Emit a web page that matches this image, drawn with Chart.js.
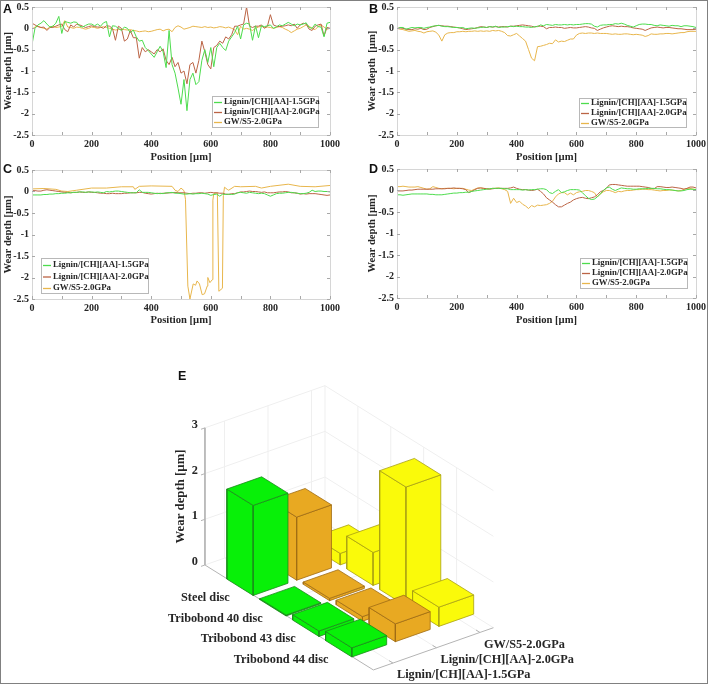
<!DOCTYPE html>
<html>
<head>
<meta charset="utf-8">
<title>Wear depth</title>
<script src="https://cdn.jsdelivr.net/npm/chart.js@4"></script>
<style>
    html, body { margin: 0; padding: 0; background: #fff; }
    #page { position: relative; width: 708px; height: 684px; overflow: hidden; }
    #frame { position: absolute; left: 0; top: 0; width: 706px; height: 682px; border: 1px solid #808080; }
    canvas { position: absolute; }
    .letter { position: absolute; font: bold 12.5px "Liberation Sans"; color: #111; }
</style>
</head>
<body>
<div id="page">
    <canvas id="panelA" width="354" height="165" style="left:0;top:0"></canvas>
    <canvas id="panelB" width="354" height="165" style="left:354px;top:0"></canvas>
    <canvas id="panelC" width="354" height="170" style="left:0;top:160px"></canvas>
    <canvas id="panelD" width="354" height="170" style="left:354px;top:160px"></canvas>
    <canvas id="panelE" width="450" height="317" style="left:150px;top:365px"></canvas>
    <div class="letter" style="left:3px;top:2px">A</div>
    <div class="letter" style="left:369px;top:2px">B</div>
    <div class="letter" style="left:3px;top:162px">C</div>
    <div class="letter" style="left:369px;top:162px">D</div>
    <div class="letter" style="left:178px;top:369px">E</div>
    <div id="frame"></div>
</div>
<script>
const seriesNames = ['Lignin/[CH][AA]-1.5GPa', 'Lignin/[CH][AA]-2.0GPa', 'GW/S5-2.0GPa'];
const discNames = ['Steel disc', 'Tribobond 40 disc', 'Tribobond 43 disc', 'Tribobond 44 disc'];
const depthTicks = [0, 1, 2, 3];

// every curve is read at these positions, except the gold one of panel C
const positions = [
    0, 10, 20, 30, 40, 50, 60, 70, 80, 90,
    100, 110, 120, 130, 140, 150, 160, 170, 180, 190,
    200, 210, 220, 230, 240, 250, 260, 270, 280, 290,
    300, 310, 320, 330, 340, 350, 360, 370, 380, 390,
    400, 410, 420, 430, 440, 450, 460, 470, 480, 490,
    500, 510, 520, 530, 540, 550, 560, 570, 580, 590,
    600, 610, 620, 630, 640, 650, 660, 670, 680, 690,
    700, 710, 720, 730, 740, 750, 760, 770, 780, 790,
    800, 810, 820, 830, 840, 850, 860, 870, 880, 890,
    900, 910, 920, 930, 940, 950, 960, 970, 980, 990,
    1000
];

const greenA = [
    -.38, 0, .08, .12, .18, .10, .03, .05, .12, .28,
    -.12, .16, .14, .12, .15, .14, .05, .03, .07, .10,
    .10, .06, .10, .05, .13, .16, -.20, .06, .05, 0,
    -.05, .03, 0, -.10, -.04, -.20, -.30, -.28, -.45, -.52,
    -.60, -.68, -.55, -.42, -.55, -.92, -.05, -.85, -1.05, -1.40,
    -1.78, -1.20, -1.93, -1.20, -1.05, -1.32, -1.25, -.75, -.50, -.80,
    -.45, -.90, -.45, -.35, -.45, -.52, -.30, -.20, -.10, .05,
    -.25, .08, .12, .10, -.28, .06, -.22, .06, .04, .06,
    .08, 0, .03, .08, .06, .10, .14, .10, .06, .10,
    .08, .10, .13, .02, 0, .10, .04, .03, -.20, .12,
    .14
];
const redA = [
    .12, .08, .04, .02, .03, -.05, .02, .02, .05, .08,
    .10, -.03, -.08, .08, .03, .10, .08, .05, .02, .04,
    .06, .04, .03, .03, 0, .06, .05, 0, -.28, .05,
    0, -.30, -.25, -.05, -.22, -.22, -.70, -.45, -.55, -.50,
    -.55, -.60, -.50, -.55, -.48, -.75, -.85, -.68, -.90, -.80,
    -1.05, -1.00, -1.30, -.85, -.80, -1.05, -.75, -.30, -.55, -.85,
    -.95, -.45, -.40, -.30, -.35, -.20, -.25, -.15, .05, .05,
    .08, .10, .50, .05, .02, .05, .05, .08, 0, .05,
    .32, .08, .05, .04, .05, .06, .08, .06, .10, 0,
    .08, .12, .10, -.02, -.05, .05, .08, .10, -.18, .02,
    0
];
const goldA = [
    -.02, .03, .05, .02, 0, -.02, .03, .05, .02, .03,
    .05, .18, .03, .02, 0, .03, .02, 0, -.02, 0,
    .03, .02, 0, .02, .04, .02, 0, -.02, -.04, -.03,
    -.02, -.03, -.04, -.03, -.05, -.06, -.08, -.07, -.06, -.08,
    -.07, -.05, -.03, -.02, -.06, -.03, -.02, -.08, .02, .06,
    .03, -.02, 0, .02, .05, .04, .03, .02, .04, .02,
    .03, .01, .02, .04, .03, .01, .03, 0, -.03, -.15,
    .05, -.02, 0, -.02, -.05, 0, .03, .05, .02, .03,
    .02, 0, .02, .04, .02, -.02, -.05, -.10, -.06, -.02,
    0, .04, .08, .05, 0, -.03, .04, .08, .03, -.02,
    0
];

const greenB = [
    -.02, .02, .02, -.02, 0, .02, .01, .02, .02, 0,
    .02, .03, .05, .06, .07, .05, .04, .04, .03, .02,
    .02, .01, .02, -.01, 0, .01, 0, .01, .02, .03,
    .02, .04, .03, .05, .02, .03, .03, .04, .05, .04,
    .05, .04, .04, .03, .03, .02, .04, .04, .08, .06,
    .09, .08, .07, .09, .08, .08, .09, .08, .09, .08,
    .09, .09, .10, .11, .11, .10, .05, .03, .07, .08,
    .08, .09, .09, .11, .10, .12, .10, .07, .05, .03,
    .06, .09, .10, .10, .09, .09, .07, .06, .08, .07,
    .06, .05, .07, .06, .06, .04, .06, .06, .05, .04,
    .02
];
const redB = [
    0, .01, 0, -.02, -.03, -.03, -.01, -.02, 0, -.03,
    -.02, .02, .04, .06, .07, .06, .05, .05, .04, .03,
    .02, .01, -.01, -.03, -.02, -.01, 0, .02, .04, .03,
    .02, .04, .03, .04, .03, .04, .04, .03, .05, .05,
    .06, .07, .08, .07, .06, .05, .03, .05, .05, .04,
    -.01, .02, .02, .03, .02, .02, 0, .01, .02, .01,
    .01, .02, .03, .04, .03, .01, 0, -.05, -.02, .01,
    .03, .05, .06, .05, .04, .05, .04, .04, .03, .01,
    0, -.01, -.02, -.05, -.02, .01, .02, .03, .02, .01,
    .02, .02, .01, 0, -.01, -.01, -.02, -.03, -.03, -.03,
    -.02
];
const goldB = [
    0, -.02, -.03, -.05, -.07, -.06, -.05, -.07, -.08, -.11,
    -.08, -.07, -.06, -.09, -.16, -.30, -.15, -.11, -.10, -.10,
    -.08, -.08, -.07, -.08, -.07, -.07, -.06, -.07, -.06, -.07,
    -.06, -.07, -.05, -.06, -.05, -.07, -.10, -.17, -.18, -.15,
    -.12, -.18, -.24, -.30, -.50, -.70, -.76, -.43, -.42, -.40,
    -.38, -.35, -.36, -.27, -.32, -.30, -.31, -.28, -.25, -.25,
    -.16, -.12, -.11, -.12, -.11, -.11, -.12, -.11, -.12, -.12,
    -.12, -.13, -.14, -.13, -.14, -.14, -.13, -.13, -.14, -.15,
    -.14, -.15, -.16, -.19, -.17, -.13, -.14, -.14, -.13, -.13,
    -.12, -.12, -.13, -.12, -.11, -.10, -.10, -.08, -.07, -.07,
    -.07
];

const greenC = [
    -.08, -.08, -.08, -.08, -.07, -.07, -.06, -.06, -.05, -.05,
    -.04, -.04, -.03, -.03, -.02, -.02, -.01, -.01, -.02, -.01,
    -.01, -.02, -.01, -.02, -.03, 0, -.01, 0, .01, .01,
    0, -.01, -.02, -.03, -.03, -.03, .04, -.02, -.02, -.02,
    -.03, -.04, -.05, -.04, -.05, -.03, -.03, -.02, -.04, -.04,
    -.05, -.06, -.06, -.05, -.06, -.05, -.05, -.04, -.05, -.06,
    -.09, -.07, -.06, -.11, -.06, -.07, -.06, -.07, -.06, -.03,
    -.02, -.03, -.04, -.02, -.03, -.04, -.05, -.04, -.05, -.08,
    -.11, -.08, -.05, -.04, -.04, -.03, -.02, -.02, -.03, -.04,
    -.05, -.05, -.04, -.02, .03, 0, .01, .01, 0, 0,
    -.01
];
const redC = [
    .02, .02, .01, .01, .03, .04, .03, .02, .01, 0,
    -.01, -.02, -.02, -.03, -.02, -.02, -.01, -.02, -.02, -.01,
    -.02, -.02, -.03, -.04, -.04, -.05, -.05, -.04, -.05, -.05,
    -.05, -.04, -.04, -.03, -.03, -.03, -.02, -.02, -.04, -.05,
    -.06, -.05, -.04, -.05, -.04, -.04, -.03, -.03, -.02, -.03,
    -.03, -.03, -.04, -.05, -.04, -.04, -.03, -.03, -.04, -.03,
    -.02, -.03, -.03, -.04, -.04, -.06, -.07, -.05, -.05, -.03,
    -.01, -.01, 0, .01, 0, 0, -.01, -.02, -.01, -.03,
    -.03, -.03, -.02, -.01, -.01, 0, -.01, -.03, -.03, -.04,
    -.06, -.05, -.06, -.05, -.05, -.05, -.06, -.07, -.08, -.09,
    -.08
];
// the gold curve of C has almost vertical walls, so it keeps its own positions
const goldCPositions = [
    0, 40, 80, 100, 120, 150, 200, 250, 300, 340, 345, 360, 400, 470, 480, 490,
    500, 510, 515, 523, 530, 541, 549, 554, 562, 571, 579, 588, 590, 597, 605, 607,
    610, 622, 627, 639, 642, 646, 655, 660, 680, 700, 750, 770, 800, 860, 900, 950, 1000
];
const goldC = [
    .06, .07, .05, .01, 0, .03, .08, .08, .11, .11, .05, .12, .13, .12, .03, .0,
    .08, .02, -.18, -2.20, -2.50, -2.15, -2.18, -2.08, -2.15, -2.40, -2.38, -2.20, -2.00, -2.12, -2.05, -.20,
    -.05, -.03, -2.32, -2.25, -.10, .10, .05, .03, .12, .11, .12, .08, .12, .17, .12, .11, .14
];

const greenD = [
    -.10, -.10, -.11, -.10, -.09, -.08, -.08, -.08, -.08, -.08,
    -.08, -.09, -.09, -.10, -.10, -.10, -.09, -.08, -.07, -.06,
    -.06, -.05, -.05, -.04, -.04, -.02, -.01, 0, .01, .02,
    .03, .04, .05, .05, .05, .05, .04, .04, .02, .02,
    .02, .02, .01, .02, .01, .02, .02, .03, .04, .04,
    .02, -.05, -.07, -.02, .02, -.05, -.03, 0, .02, .02,
    .02, .01, -.05, -.12, -.18, -.21, -.20, -.15, -.08, 0,
    .06, .08, .03, 0, .03, .06, .05, .04, .04, .03,
    .03, .04, .04, .04, .05, .05, .05, .04, .04, .03,
    .02, .02, .01, 0, -.01, -.01, 0, .02, .03, .03,
    .02
];
const redD = [
    -.01, -.01, -.01, 0, .01, .01, .02, .03, .03, .03,
    .03, .03, .03, .04, .04, .04, .04, .05, .05, .06,
    .05, .05, .04, .02, -.05, -.02, .02, .05, .06, .05,
    .04, .03, .04, .05, .05, .05, .05, .05, .06, .08,
    .05, .03, .02, .02, .01, 0, .01, .03, -.02, -.08,
    -.17, -.22, -.27, -.33, -.38, -.38, -.34, -.30, -.27, -.22,
    -.19, -.17, -.16, -.18, -.19, -.17, -.15, -.10, -.03, 0,
    .05, .13, .14, .14, .13, .12, .11, .10, .10, .10,
    .10, .10, .09, .08, .07, .05, .04, .09, .09, .08,
    .07, .07, .08, .07, .06, .05, .03, .05, .08, .08,
    .06
];
const goldD = [
    .09, .09, .10, .09, .08, .08, .08, .09, .07, .05,
    .03, .04, .09, .07, .05, .04, .05, .05, .05, .04,
    .05, .05, .05, .03, .01, 0, .03, .06, .06, .05,
    .04, .04, .05, .05, .06, .04, .02, -.02, -.30, -.18,
    -.28, -.25, -.32, -.36, -.42, -.35, -.38, -.34, -.35, -.34,
    -.33, -.30, -.25, -.15, -.08, -.05, -.05, -.10, -.06, -.10,
    -.05, -.03, -.02, 0, 0, -.02, -.05, -.15, -.08, -.03,
    0, 0, -.02, -.05, -.02, -.03, -.01, 0, 0, .01,
    .02, .02, .03, .03, .02, .02, .01, 0, -.01, 0,
    0, .01, .01, 0, -.01, 0, .03, .05, .05, .03,
    .02
];

// panel E, rows are the discs, one array per material
const barsGreen = [1.97, 0.02, 0.12, 0.20];
const barsOrange = [1.38, 0.05, 0.10, 0.39];
const barsYellow = [0.25, 0.72, 2.60, 0.42];

const lineColors = ['#4ddc4d', '#bb6445', '#e8b64c'];
const barColors = ['#08f008', '#e8a922', '#fafa0a'];
const barEdges = ['#1c8a1c', '#a06c14', '#a8a014'];
const textColor = '#262626';
const serif = '"Liberation Serif"';

Chart.defaults.font.family = serif;
Chart.defaults.font.weight = 'bold';
Chart.defaults.color = textColor;
Chart.defaults.animation = false;

function toPoints(xs, ys) {
    return xs.map((x, i) => ({x: x, y: ys[i]}));
}

// light box with short inward ticks on all four sides, like the original figure
const boxPlugin = {
    id: 'boxPlugin',
    afterDraw(chart) {
        if (!chart.options.plugins.boxPlugin.show) {
            return;
        }
        const {ctx, chartArea: a, scales} = chart;
        ctx.save();
        ctx.strokeStyle = '#d6d6d6';
        ctx.lineWidth = 1;
        ctx.strokeRect(a.left + .5, a.top + .5, a.right - a.left, a.bottom - a.top);
        ctx.strokeStyle = '#a8a8a8';
        ctx.beginPath();
        scales.x.ticks.forEach(t => {
            const px = Math.round(scales.x.getPixelForValue(t.value)) + .5;
            ctx.moveTo(px, a.bottom); ctx.lineTo(px, a.bottom - 3);
            ctx.moveTo(px, a.top); ctx.lineTo(px, a.top + 3);
        });
        scales.y.ticks.forEach(t => {
            const py = Math.round(scales.y.getPixelForValue(t.value)) + .5;
            ctx.moveTo(a.left, py); ctx.lineTo(a.left + 3, py);
            ctx.moveTo(a.right, py); ctx.lineTo(a.right - 3, py);
        });
        ctx.stroke();
        ctx.restore();
    }
};

const legendPlugin = {
    id: 'legendPlugin',
    afterDraw(chart) {
        const opts = chart.options.plugins.legendPlugin;
        if (!opts.box) {
            return;
        }
        const ctx = chart.ctx;
        const [left, top, width, height] = opts.box;
        ctx.save();
        ctx.fillStyle = '#fff';
        ctx.strokeStyle = '#b8b8b8';
        ctx.fillRect(left, top, width, height);
        ctx.strokeRect(left + .5, top + .5, width, height);
        ctx.font = 'bold 8.8px ' + serif;
        ctx.textBaseline = 'middle';
        chart.data.datasets.forEach((ds, i) => {
            const y = top + opts.firstRow + i * opts.rowGap;
            ctx.strokeStyle = ds.borderColor;
            ctx.lineWidth = 1.3;
            ctx.beginPath();
            ctx.moveTo(left + 2, y + .5);
            ctx.lineTo(left + opts.sample, y + .5);
            ctx.stroke();
            ctx.fillStyle = textColor;
            ctx.fillText(ds.label, left + opts.sample + 2, y);
        });
        ctx.restore();
    }
};

function wearChart(id, curves, layout) {
    return new Chart(document.getElementById(id), {
        type: 'scatter',
        data: {
            datasets: curves.map((points, i) => ({
                label: seriesNames[i],
                data: points,
                showLine: true,
                borderColor: lineColors[i],
                borderWidth: 1,
                pointRadius: 0,
                tension: 0
            }))
        },
        options: {
            responsive: false,
            layout: {padding: layout.padding},
            plugins: {
                legend: {display: false},
                tooltip: {enabled: false},
                boxPlugin: {show: true},
                legendPlugin: layout.legend
            },
            scales: {
                x: {
                    type: 'linear',
                    min: 0,
                    max: 1000,
                    grid: {display: false, drawTicks: false},
                    border: {display: false},
                    ticks: {
                        stepSize: 100,
                        autoSkip: false,
                        maxRotation: 0,
                        padding: 3,
                        font: {size: 10},
                        callback: v => (v % 200 === 0 ? String(v) : '')
                    },
                    title: {
                        display: true,
                        text: 'Position [µm]',
                        font: {size: 10.6},
                        padding: {top: 0, bottom: layout.xTitlePad}
                    },
                    afterFit(scale) {
                        scale.height = layout.xHeight;
                        scale.paddingLeft = scale.paddingRight = 0;
                    }
                },
                y: {
                    min: -2.5,
                    max: .5,
                    grid: {display: false, drawTicks: false},
                    border: {display: false},
                    ticks: {
                        stepSize: .5,
                        padding: 3,
                        font: {size: 10},
                        callback: v => String(v)
                    },
                    title: {
                        display: true,
                        text: layout.yTitle,
                        font: {size: 10.6},
                        padding: {top: layout.yTitlePad, bottom: 0}
                    },
                    afterFit(scale) {
                        scale.width = layout.yWidth;
                        scale.paddingTop = scale.paddingBottom = 0;
                    }
                }
            }
        },
        plugins: [boxPlugin, legendPlugin]
    });
}

wearChart('panelA', [toPoints(positions, greenA), toPoints(positions, redA), toPoints(positions, goldA)], {
    padding: {left: 0, top: 7, right: 24, bottom: 0},
    yWidth: 32, xHeight: 30, xTitlePad: 1, yTitlePad: 2, yTitle: 'Wear depth [µm]',
    legend: {box: [212, 96, 106, 31], firstRow: 6, rowGap: 10, sample: 10}
});
wearChart('panelB', [toPoints(positions, greenB), toPoints(positions, redB), toPoints(positions, goldB)], {
    padding: {left: 0, top: 7, right: 12, bottom: 0},
    yWidth: 43, xHeight: 30, xTitlePad: 1, yTitlePad: 12, yTitle: 'Wear depth  [µm]',
    legend: {box: [225, 98, 107, 29], firstRow: 5, rowGap: 10, sample: 10}
});
wearChart('panelC', [toPoints(positions, greenC), toPoints(positions, redC), toPoints(goldCPositions, goldC)], {
    padding: {left: 0, top: 10, right: 24, bottom: 0},
    yWidth: 32, xHeight: 31, xTitlePad: 3, yTitlePad: 2, yTitle: 'Wear depth [µm]',
    legend: {box: [41, 98, 107, 35], firstRow: 7, rowGap: 11.5, sample: 10}
});
wearChart('panelD', [toPoints(positions, greenD), toPoints(positions, redD), toPoints(positions, goldD)], {
    padding: {left: 0, top: 9, right: 12, bottom: 0},
    yWidth: 43, xHeight: 32, xTitlePad: 3, yTitlePad: 12, yTitle: 'Wear depth [µm]',
    legend: {box: [226, 98, 107, 30], firstRow: 5, rowGap: 10, sample: 10}
});

// panel E: a small oblique projection of (disc row, material, depth) on the page plane
const floorDisc = [-1, 4.12];
const floorSeries = [-.45, 2.31];
const barHalf = .4;
const barShiftDisc = .08;
const barShiftSeries = -.06;

function project(disc, series, depth) {
    return {
        x: 257.4 + disc * 32.9 + series * 43.5,
        y: 578.6 + disc * 20.5 - series * 15.3 - depth * 45.7
    };
}

function polyline(corners, color, width, fillColor) {
    const ds = {
        data: corners.map(c => project(c[0], c[1], c[2])),
        showLine: true,
        borderColor: color,
        borderWidth: width,
        pointRadius: 0,
        tension: 0
    };
    if (fillColor) {
        ds.fill = 'shape';
        ds.backgroundColor = fillColor;
    }
    return ds;
}

function face(corners, s) {
    return polyline(corners.concat([corners[0]]), barEdges[s], .8, barColors[s]);
}

function buildWorld() {
    const list = [];
    const gridColor = '#efefef';
    const axisColor = '#b4b4b4';
    const [d0, d1] = floorDisc;
    const [s0, s1] = floorSeries;
    depthTicks.forEach(z => {
        list.push(polyline([[d0, s0, z], [d0, s1, z], [d1, s1, z]], gridColor, 1));
    });
    [0, 1, 2].forEach(s => {
        list.push(polyline([[d0, s, 0], [d0, s, 3]], gridColor, 1));
        list.push(polyline([[d0, s, 0], [d1, s, 0]], gridColor, 1));
    });
    discNames.forEach((name, d) => {
        list.push(polyline([[d, s1, 0], [d, s1, 3]], gridColor, 1));
        list.push(polyline([[d, s0, 0], [d, s1, 0]], gridColor, 1));
    });
    list.push(polyline([[d0, s1, 0], [d0, s1, 3]], gridColor, 1));
    list.push(polyline([[d0, s0, 3], [d0, s0, 0], [d1, s0, 0], [d1, s1, 0]], axisColor, 1));
    depthTicks.forEach(z => {
        list.push(polyline([[d0, s0, z], [d0, s0 - .09, z]], axisColor, 1));
    });
    discNames.forEach((name, d) => {
        list.push(polyline([[d, s0, 0], [d, s0 + .09, 0]], axisColor, 1));
    });
    [0, 1, 2].forEach(s => {
        list.push(polyline([[d1, s, 0], [d1 - .12, s, 0]], axisColor, 1));
    });

    // painter's order, back row first and the far material first
    const materials = [barsGreen, barsOrange, barsYellow];
    discNames.forEach((name, d) => {
        [2, 1, 0].forEach(s => {
            const z = materials[s][d];
            const a = d + barShiftDisc - barHalf, b = d + barShiftDisc + barHalf;
            const l = s + barShiftSeries - barHalf, r = s + barShiftSeries + barHalf;
            list.push(face([[a, l, 0], [b, l, 0], [b, l, z], [a, l, z]], s));
            list.push(face([[b, l, 0], [b, r, 0], [b, r, z], [b, l, z]], s));
            list.push(face([[a, l, z], [b, l, z], [b, r, z], [a, r, z]], s));
        });
    });
    return list.reverse();
}

// text of panel E sits next to the projected tick positions
const worldLabels = {
    id: 'worldLabels',
    afterDraw(chart) {
        const {ctx, scales} = chart;
        const at = (disc, series, depth) => {
            const p = project(disc, series, depth);
            return [scales.x.getPixelForValue(p.x), scales.y.getPixelForValue(p.y)];
        };
        ctx.save();
        ctx.fillStyle = textColor;
        ctx.textBaseline = 'middle';
        ctx.font = 'bold 12.3px ' + serif;
        ctx.textAlign = 'right';
        depthTicks.forEach(z => {
            const [x, y] = at(floorDisc[0], floorSeries[0], z);
            ctx.fillText(String(z), x - 7, y - 3);
        });
        discNames.forEach((name, d) => {
            const [x, y] = at(d, floorSeries[0], 0);
            ctx.fillText(name, x - 8, y + 12.5);
        });
        ctx.textAlign = 'left';
        seriesNames.forEach((name, s) => {
            const [x, y] = at(floorDisc[1], s, 0);
            ctx.fillText(name, x + 4, y + 12);
        });
        const [tx, ty] = at(floorDisc[0], floorSeries[0], 1.5);
        ctx.translate(tx - 24, ty);
        ctx.rotate(-Math.PI / 2);
        ctx.textAlign = 'center';
        ctx.font = 'bold 12.8px ' + serif;
        ctx.fillText('Wear depth [µm]', 0, 0);
        ctx.restore();
    }
};

new Chart(document.getElementById('panelE'), {
    type: 'scatter',
    data: {datasets: buildWorld()},
    options: {
        responsive: false,
        layout: {padding: 0},
        plugins: {
            legend: {display: false},
            tooltip: {enabled: false},
            boxPlugin: {show: false},
            legendPlugin: {}
        },
        scales: {
            x: {type: 'linear', min: 150, max: 600, display: false},
            y: {type: 'linear', min: 365, max: 682, reverse: true, display: false}
        }
    },
    plugins: [worldLabels]
});
</script>
</body>
</html>
